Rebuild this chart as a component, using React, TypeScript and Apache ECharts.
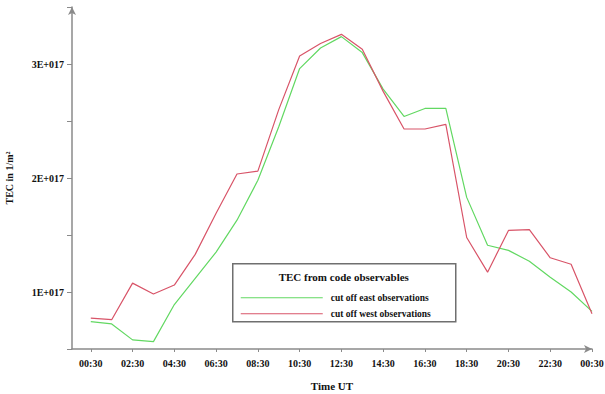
import React, { useEffect, useRef } from "react";
import * as echarts from "echarts";

// hours after 00:30 UT
const hours = [0, 1, 2, 3, 4, 5, 6, 7, 8, 9, 10, 11, 12, 13, 14, 15, 16, 17, 18, 19, 20, 21, 22, 23, 24];
// TEC in units of 1E+017
const eastCut = [0.74, 0.72, 0.58, 0.565, 0.89, 1.12, 1.35, 1.63, 1.98, 2.45, 2.96, 3.14, 3.24, 3.1, 2.78, 2.54, 2.61, 2.61, 1.83, 1.41, 1.365, 1.27, 1.13, 1.0, 0.83];
const westCut = [0.77, 0.757, 1.078, 0.983, 1.061, 1.33, 1.69, 2.035, 2.06, 2.6, 3.07, 3.18, 3.26, 3.13, 2.76, 2.43, 2.43, 2.47, 1.478, 1.174, 1.54, 1.548, 1.3, 1.243, 0.81];
const xTickValues = [0, 2, 4, 6, 8, 10, 12, 14, 16, 18, 20, 22, 24];
const yLabelValues = [1, 2, 3];

const legendTitle = "TEC from code observables";
const eastName = "cut off east observations";
const westName = "cut off west observations";

const FONT = "'Liberation Serif', 'DejaVu Serif', serif";
const GREEN = "#62d862";
const RED = "#d85468";

function fmtHour(v: number): string {
  const h = ((Math.round(v) % 24) + 24) % 24;
  return (h < 10 ? "0" : "") + h + ":30";
}

export default function App() {
  const ref = useRef<HTMLDivElement>(null);
  useEffect(() => {
    if (!ref.current) return;
    const chart = echarts.init(ref.current, undefined, { renderer: "svg" });
    chart.setOption({
      animation: false,
      backgroundColor: "#ffffff",
      grid: { left: 72, right: 13, top: 7, bottom: 45, containLabel: false, outerBoundsMode: "none" },
      xAxis: {
        type: "value",
        min: -0.9,
        max: 24,
        name: "Time UT",
        nameLocation: "middle",
        nameGap: 31,
        nameTextStyle: { fontFamily: FONT, fontWeight: "bold", fontSize: 11, color: "#111" },
        axisLine: {
          show: true,
          onZero: false,
          symbol: ["none", "arrow"],
          symbolSize: [6, 8],
          lineStyle: { color: "#8a8a8a", width: 1.5 },
        },
        axisTick: { show: true, length: 3, customValues: xTickValues, lineStyle: { color: "#8a8a8a" } },
        axisLabel: {
          customValues: xTickValues,
          formatter: (v: number) => fmtHour(v),
          fontFamily: FONT,
          fontWeight: "bold",
          fontSize: 10,
          color: "#111",
          margin: 9,
        },
        splitLine: { show: false },
      },
      yAxis: {
        type: "value",
        min: 0.5,
        max: 3.5,
        interval: 0.5,
        name: "TEC in 1/m²",
        nameLocation: "middle",
        nameGap: 58,
        nameRotate: 90,
        nameTextStyle: { fontFamily: FONT, fontWeight: "bold", fontSize: 10, color: "#111" },
        axisLine: {
          show: true,
          onZero: false,
          symbol: ["none", "arrow"],
          symbolSize: [6, 8],
          lineStyle: { color: "#8a8a8a", width: 1.5 },
        },
        axisTick: { show: true, length: 5, inside: false, lineStyle: { color: "#8a8a8a" } },
        axisLabel: {
          formatter: (v: number) => (yLabelValues.indexOf(Math.round(v * 100) / 100) >= 0 ? v + "E+017" : ""),
          fontFamily: FONT,
          fontWeight: "bold",
          fontSize: 10,
          color: "#111",
          margin: 8,
        },
        splitLine: { show: false },
      },
      series: [
        {
          name: eastName,
          type: "line",
          data: hours.map((h, i) => [h, eastCut[i]]),
          showSymbol: false,
          lineStyle: { color: GREEN, width: 1.2 },
          itemStyle: { color: GREEN },
          z: 2,
        },
        {
          name: westName,
          type: "line",
          data: hours.map((h, i) => [h, westCut[i]]),
          showSymbol: false,
          lineStyle: { color: RED, width: 1.2 },
          itemStyle: { color: RED },
          z: 3,
        },
      ],
      graphic: [
        {
          type: "group",
          left: 232,
          top: 263,
          children: [
            {
              type: "rect",
              shape: { x: 0, y: 0, width: 223, height: 58 },
              style: { fill: "#ffffff", stroke: "#6f6f6f", lineWidth: 1.5 },
            },
            {
              type: "text",
              x: 111,
              y: 13,
              style: {
                text: legendTitle,
                fontFamily: FONT,
                fontWeight: "bold",
                fontSize: 11,
                fill: "#111",
                align: "center",
                verticalAlign: "middle",
              },
            },
            {
              type: "line",
              shape: { x1: 8, y1: 34, x2: 90, y2: 34 },
              style: { stroke: GREEN, lineWidth: 1.2 },
            },
            {
              type: "line",
              shape: { x1: 8, y1: 50, x2: 90, y2: 50 },
              style: { stroke: RED, lineWidth: 1.2 },
            },
            {
              type: "text",
              x: 98,
              y: 34,
              style: {
                text: eastName,
                fontFamily: FONT,
                fontWeight: "bold",
                fontSize: 9.5,
                fill: "#111",
                align: "left",
                verticalAlign: "middle",
              },
            },
            {
              type: "text",
              x: 98,
              y: 50,
              style: {
                text: westName,
                fontFamily: FONT,
                fontWeight: "bold",
                fontSize: 9.5,
                fill: "#111",
                align: "left",
                verticalAlign: "middle",
              },
            },
          ],
        },
      ],
    });
    return () => chart.dispose();
  }, []);
  return <div ref={ref} style={{ width: 605, height: 394, position: "absolute", left: 0, top: 0 }} />;
}
